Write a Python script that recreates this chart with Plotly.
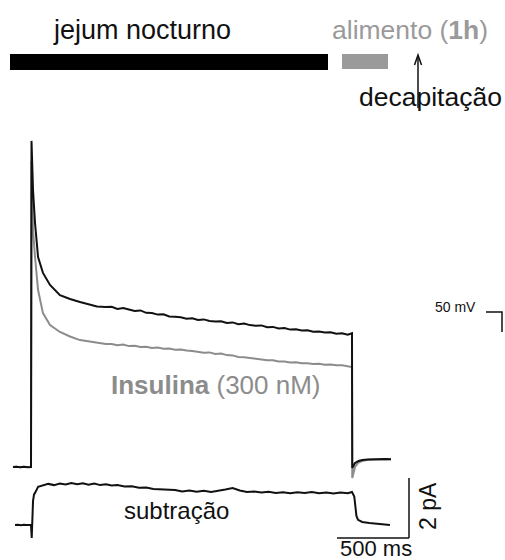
import plotly.graph_objects as go

# ---------------- data (time in ms, current in pA) ----------------
T_MAIN = [-125, -100, -75, -50, -25, -5, 0, 3.5, 7, 14, 28, 49, 83, 132, 201, 271, 340, 400, 458, 520,
          560, 600, 640, 680, 720, 760, 800, 840, 880, 920,
          960, 1000, 1040, 1080, 1120, 1160, 1200, 1240, 1280, 1320,
          1360, 1400, 1440, 1480, 1520, 1560, 1600, 1640, 1680, 1720,
          1760, 1800, 1840, 1880, 1920, 1960, 2000, 2040, 2080, 2120,
          2160, 2200, 2229,
          2231, 2250, 2275, 2300, 2340, 2380, 2420, 2460, 2500]

I_FAST = [0.0, 0.01, -0.01, 0.01, -0.01, 0.0, 0.0, 10.87, 10.23, 9.23, 8.13, 7.0, 6.47, 6.07, 5.73, 5.6, 5.5, 5.42, 5.35, 5.33,
          5.34, 5.27, 5.30, 5.25, 5.20, 5.22, 5.14, 5.13, 5.08, 5.09,
          5.02, 5.01, 4.99, 4.94, 4.96, 4.90, 4.92, 4.87, 4.85, 4.86,
          4.80, 4.82, 4.76, 4.78, 4.73, 4.71, 4.72, 4.66, 4.67, 4.62,
          4.63, 4.58, 4.59, 4.55, 4.56, 4.51, 4.52, 4.48, 4.49, 4.44,
          4.46, 4.41, 4.46,
          -0.03, 0.13, 0.2, 0.23, 0.25, 0.26, 0.25, 0.27, 0.26]

I_INSULIN = [0.0, 0.01, -0.01, 0.01, 0.0, -0.01, 0.0, 10.2, 9.0, 7.9, 7.0, 5.9, 5.13, 4.73, 4.5, 4.35, 4.23, 4.18, 4.13, 4.10,
             4.10, 4.06, 4.08, 4.03, 4.04, 4.00, 4.01, 3.97, 3.98, 3.94,
             3.95, 3.91, 3.92, 3.88, 3.87, 3.85, 3.81, 3.82, 3.77, 3.78,
             3.73, 3.72, 3.67, 3.66, 3.63, 3.60, 3.59, 3.56, 3.56, 3.52,
             3.52, 3.48, 3.49, 3.46, 3.46, 3.43, 3.44, 3.41, 3.42, 3.39,
             3.39, 3.36, 3.33,
             -0.37, 0.0, 0.15, 0.2, 0.24, 0.25, 0.25, 0.26, 0.26]

T_SUB = [-111, -90, -70, -50, -30, -10, 0, 5, 7, 14, 21, 28, 49, 83, 120, 160, 200, 240, 280, 320,
         360, 400, 440, 480, 520, 560, 600, 650, 700, 750, 800, 850, 900, 950, 1000, 1050, 1100,
         1150, 1200, 1250, 1300, 1350, 1400, 1450, 1500, 1550, 1600, 1650, 1700, 1750, 1800, 1850,
         1900, 1950, 2000, 2050, 2100, 2150, 2200, 2229, 2245, 2260, 2271, 2300, 2350, 2400, 2450, 2493]

I_SUB = [0.0, 0.01, -0.01, 0.01, 0.0, 0.01, 0.0, -0.43, 0.2, 0.8, 1.02, 1.07, 1.27, 1.33, 1.37, 1.33, 1.38, 1.35, 1.40, 1.36,
         1.39, 1.34, 1.38, 1.33, 1.36, 1.32, 1.33, 1.28, 1.29, 1.24, 1.25, 1.20, 1.19, 1.16, 1.17, 1.12, 1.15,
         1.11, 1.14, 1.10, 1.13, 1.18, 1.23, 1.15, 1.10, 1.12, 1.08, 1.11, 1.07, 1.09, 1.06, 1.09,
         1.07, 1.10, 1.06, 1.08, 1.05, 1.08, 1.06, 1.10, 0.95, 0.30, 0.17, 0.10, 0.07, 0.04, 0.03, 0.0]

SCALE_MS = 500
SCALE_PA = 2

LABEL_FAST = "jejum nocturno"
LABEL_FED = "alimento (<b>1h</b>)"
LABEL_DECAP = "decapitação"
LABEL_INS = "<b>Insulina</b> (300 nM)"
LABEL_SUB = "subtração"
LABEL_MS = "500 ms"
LABEL_PA = "2 pA"
LABEL_MV = "50 mV"

# ---------------- layout geometry ----------------
W, H = 505, 560
OFF = 0
MS_PER_PX = SCALE_MS / 72.0
X0_PX = 31 - OFF          # pixel column of pulse onset (figure coords)
BASE_MAIN_PX = 467 - OFF  # pixel row of baseline of main traces
BASE_SUB_PX = 525 - OFF   # pixel row of baseline of subtraction trace
PX_PER_PA = 30.0

BLACK = "#111111"
GRAY = "#8c8c8c"
LGRAY = "#9a9a9a"
FONT = "Liberation Sans, Arial, Helvetica, sans-serif"


def px(x):
    return (x - OFF) / W


def py(y):
    return 1 - (y - OFF) / H


fig = go.Figure()
fig.add_trace(go.Scatter(x=T_MAIN, y=I_INSULIN, mode="lines", line=dict(color=GRAY, width=2),
                         yaxis="y", showlegend=False, hoverinfo="skip"))
fig.add_trace(go.Scatter(x=T_MAIN, y=I_FAST, mode="lines", line=dict(color=BLACK, width=2),
                         yaxis="y", showlegend=False, hoverinfo="skip"))
fig.add_trace(go.Scatter(x=T_SUB, y=I_SUB, mode="lines", line=dict(color=BLACK, width=2),
                         yaxis="y2", showlegend=False, hoverinfo="skip"))

x_range = [-X0_PX * MS_PER_PX, (W - X0_PX) * MS_PER_PX]
y_range = [(BASE_MAIN_PX - H) / PX_PER_PA, BASE_MAIN_PX / PX_PER_PA]
y2_range = [(BASE_SUB_PX - H) / PX_PER_PA, BASE_SUB_PX / PX_PER_PA]

ax_common = dict(visible=False, showgrid=False, zeroline=False, fixedrange=True)
fig.update_layout(
    width=W, height=H, autosize=False,
    margin=dict(l=0, r=0, t=0, b=0, pad=0),
    paper_bgcolor="white", plot_bgcolor="white",
    xaxis=dict(range=x_range, domain=[0, 1], **ax_common),
    yaxis=dict(range=y_range, domain=[0, 1], **ax_common),
    yaxis2=dict(range=y2_range, overlaying="y", **ax_common),
    font=dict(family=FONT, color=BLACK),
)

shapes = []
# top bars
shapes.append(dict(type="rect", xref="paper", yref="paper", x0=px(10), x1=px(328), y0=py(70), y1=py(54),
                   fillcolor="black", line=dict(width=0)))
shapes.append(dict(type="rect", xref="paper", yref="paper", x0=px(342), x1=px(388), y0=py(69), y1=py(54),
                   fillcolor=LGRAY, line=dict(width=0)))
# decapitation arrow
shapes.append(dict(type="line", xref="paper", yref="paper", x0=px(418), x1=px(418), y0=py(108), y1=py(56),
                   line=dict(color=BLACK, width=1.5)))
shapes.append(dict(type="path", xref="paper", yref="paper",
                   path=f"M {px(414.5)} {py(65)} L {px(418)} {py(55)} L {px(421.5)} {py(65)}",
                   line=dict(color=BLACK, width=1.5)))
# 50 mV scale
shapes.append(dict(type="path", xref="paper", yref="paper",
                   path=f"M {px(486)} {py(312)} L {px(502)} {py(312)} L {px(502)} {py(332)}",
                   line=dict(color=BLACK, width=1.5)))
# current/time scale bars (data coordinates of subtraction axis)
bar_t1 = (409 - 31) * MS_PER_PX
bar_y0 = (525 - 538) / PX_PER_PA
shapes.append(dict(type="line", xref="x", yref="y2", x0=bar_t1 - SCALE_MS, x1=bar_t1, y0=bar_y0, y1=bar_y0,
                   line=dict(color=BLACK, width=1.5)))
shapes.append(dict(type="line", xref="x", yref="y2", x0=bar_t1, x1=bar_t1, y0=bar_y0, y1=bar_y0 + SCALE_PA,
                   line=dict(color=BLACK, width=1.5)))
fig.update_layout(shapes=shapes)


def ann(text, x, y, size, color=BLACK, angle=0):
    fig.add_annotation(text=text, xref="paper", yref="paper", x=px(x), y=py(y), showarrow=False,
                       xanchor="center", yanchor="middle", textangle=angle,
                       font=dict(family=FONT, size=size, color=color))


ann(LABEL_FAST, 141.5, 30, 27)
ann(LABEL_FED, 410, 30, 26.5, color=LGRAY)
ann(LABEL_DECAP, 430.5, 97, 26.5)
ann(LABEL_INS, 216, 385, 26, color=GRAY)
ann(LABEL_SUB, 176, 510, 24)
ann(LABEL_MS, 376, 548, 22)
ann(LABEL_PA, 428, 506, 23, angle=-90)
ann(LABEL_MV, 455, 307, 14)

fig.write_html("out.html", config={"displayModeBar": False},
               post_script="document.body.style.margin='0';document.body.style.overflow='hidden';")
